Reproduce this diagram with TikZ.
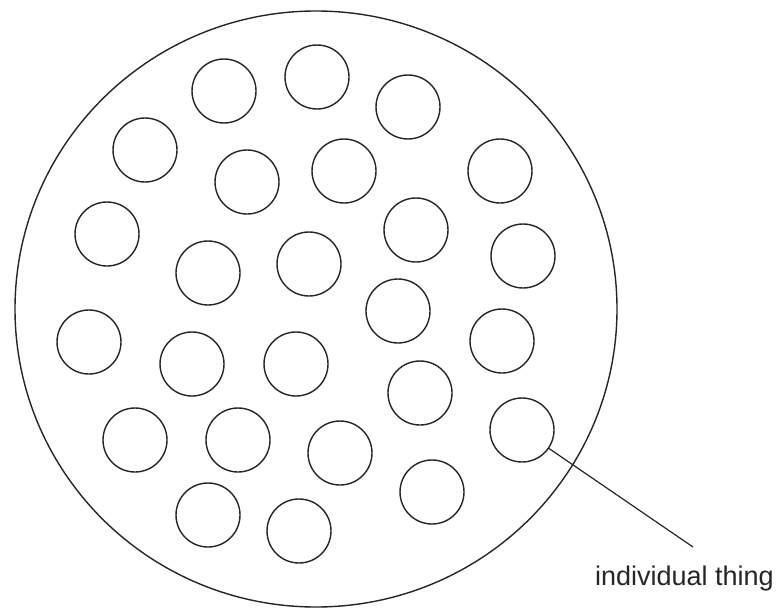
\documentclass[tikz,border=0pt]{standalone}
\usepackage{fontspec}
\usetikzlibrary{shapes.geometric}
\setmainfont{Liberation Sans}
\begin{document}
\begin{tikzpicture}[x=1pt,y=-1pt,
  thing/.style={draw=black!85, line width=1.4pt, circle, inner sep=0pt, minimum size=64pt},
  whole/.style={draw=black!85, line width=1.4pt, ellipse, inner sep=0pt, minimum width=602pt, minimum height=596pt},
  pointer/.style={draw=black!85, line width=1.2pt},
  lbl/.style={font=\fontsize{27}{30}\selectfont, text=black!85, inner sep=0pt, anchor=base west}]
\useasboundingbox[fill=white] (0,0) rectangle (779,610);
\node[whole] (big) at (316,309) {};
\foreach \n/\x/\y in {1/224/91, 2/317/77, 3/408/107, 4/145/150, 5/247/182, 6/344/171,
  7/500/171, 8/107/234, 9/416/230, 10/208/273, 11/309/264, 12/523/256, 13/398/311,
  14/89/342, 15/192/364, 16/296/364, 17/502/341, 18/420/393, 19/135/440, 20/238/440,
  21/340/453, 22/522/430, 23/208/515, 24/432/492, 25/299/531}
  \node[thing] (c\n) at (\x,\y) {};
\coordinate (tip) at (693,547);
\node[lbl] (label) at (595,585) {individual thing};
\draw[pointer] (c22) -- (tip);
\end{tikzpicture}
\end{document}
